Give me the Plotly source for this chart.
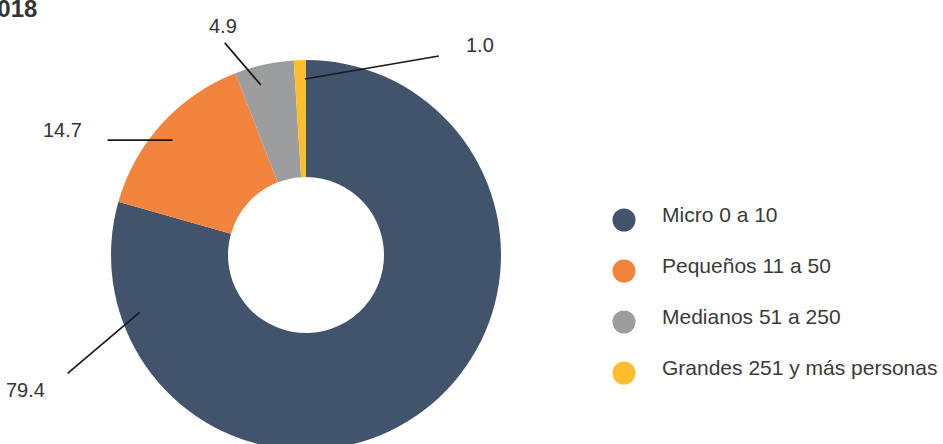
import math
import plotly.graph_objects as go

# Share of employed personnel by establishment size, 2018
year = "2018"
categories = ["Micro 0 a 10", "Pequeños 11 a 50", "Medianos 51 a 250", "Grandes 251 y más personas"]
shares = [79.4, 14.7, 4.9, 1.0]
colors = ["#42546b", "#f2843e", "#9c9d9f", "#fdbd2c"]

# Canvas and donut geometry (pixels)
W, H = 943, 450
CX, CY, R = 306, 255, 195
HOLE = 0.4

# Leader-line placement: where inside each slice the line starts,
# the line's other end relative to that point, and the text relative to the line end
anchor_frac = [0.878, 0.47, 0.36, 0.9]
LABEL_R = 176
line_offsets = [(-72, 61), (-65, 0), (-36, -42), (134, -23)]
text_offsets = [(-42, 17), (-45, -10), (-2, -17), (41, -11)]

# Legend placement
LEG_X, LEG_TEXT_X, LEG_Y0, LEG_STEP = 624, 660, 220, 51

TEXT = "#333333"
FONT = "Liberation Sans, Arial, Helvetica, sans-serif"

fig = go.Figure()

fig.add_trace(go.Pie(
    values=shares,
    labels=categories,
    marker=dict(colors=colors, line=dict(width=0)),
    hole=HOLE,
    sort=False,
    direction="clockwise",
    rotation=0,
    textinfo="none",
    showlegend=False,
    domain=dict(x=[(CX - R) / W, (CX + R) / W],
                y=[(H - (CY + R)) / H, (H - (CY - R)) / H]),
))

shapes = []
annotations = []
total = sum(shares)
start = 0.0
for v, f, (lx, ly), (tx, ty) in zip(shares, anchor_frac, line_offsets, text_offsets):
    a0 = start / total * 360.0
    a1 = (start + v) / total * 360.0
    start += v
    th = math.radians(a0 + f * (a1 - a0))
    px = CX + LABEL_R * math.sin(th)
    py = CY - LABEL_R * math.cos(th)
    ex, ey = px + lx, py + ly
    shapes.append(dict(type="line", xref="x", yref="y", x0=px, y0=py, x1=ex, y1=ey,
                       line=dict(color="#1a1a1a", width=1.7)))
    annotations.append(dict(text=f"{v:.1f}", x=ex + tx, y=ey + ty, xref="x", yref="y",
                            showarrow=False, xanchor="center", yanchor="middle",
                            font=dict(family=FONT, size=20, color=TEXT)))

# Legend built from the category list
leg_y = [LEG_Y0 + i * LEG_STEP for i in range(len(categories))]
fig.add_trace(go.Scatter(
    x=[LEG_X] * len(categories), y=leg_y, mode="markers",
    marker=dict(color=colors, size=23, symbol="circle", line=dict(width=0)),
    hoverinfo="skip", showlegend=False,
))
for name, y in zip(categories, leg_y):
    annotations.append(dict(text=name, x=LEG_TEXT_X, y=y - 6, xref="x", yref="y",
                            showarrow=False, xanchor="left", yanchor="middle",
                            font=dict(family=FONT, size=21, color="#3a3a3a")))

# Year heading at the top left
annotations.append(dict(text=f"<b>{year}</b>", x=39, y=8, xref="x", yref="y",
                        showarrow=False, xanchor="right", yanchor="middle",
                        font=dict(family=FONT, size=24, color=TEXT)))

fig.update_layout(
    width=W, height=H,
    margin=dict(l=0, r=0, t=0, b=0, pad=0),
    paper_bgcolor="white", plot_bgcolor="rgba(0,0,0,0)",
    showlegend=False,
    xaxis=dict(range=[0, W], visible=False, fixedrange=True, domain=[0, 1]),
    yaxis=dict(range=[H, 0], visible=False, fixedrange=True, domain=[0, 1]),
    shapes=shapes,
    annotations=annotations,
)

fig.write_html("out.html", config={"displayModeBar": False},
               post_script="document.documentElement.style.overflow='hidden';"
                           "document.body.style.overflow='hidden';"
                           "document.body.style.margin='0';")
